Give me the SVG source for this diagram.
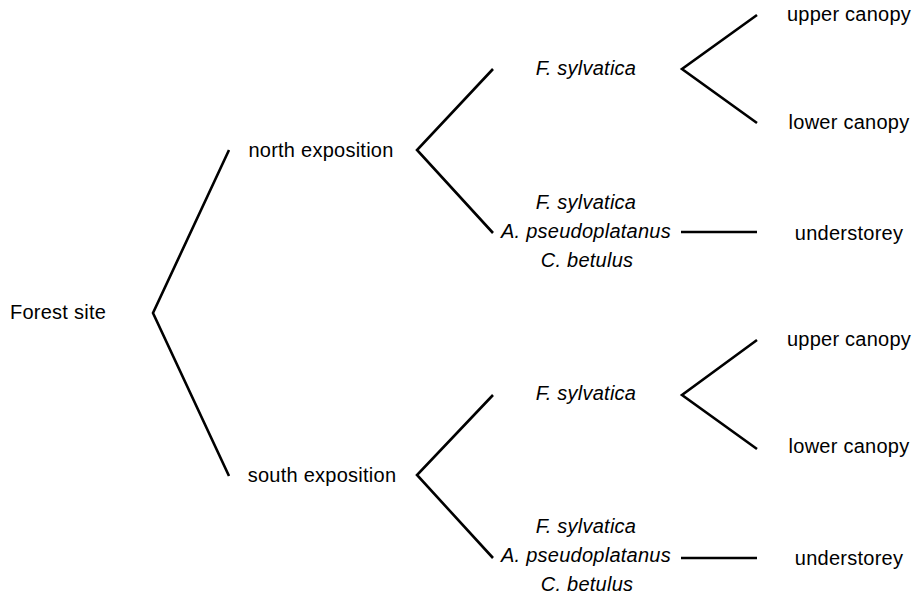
<svg xmlns="http://www.w3.org/2000/svg" width="918" height="597" viewBox="0 0 918 597">
<style>
text{font-family:"Liberation Sans",Arial,sans-serif;font-size:20px;fill:#000;letter-spacing:0.25px}
.i{font-style:italic}
.m{text-anchor:middle}
.c line, .c polyline{stroke:#000;stroke-width:2.6;fill:none;stroke-linecap:butt;stroke-linejoin:miter}
</style>
<rect width="918" height="597" fill="#fff"/>
<g id="forest"><text x="10" y="319">Forest site</text></g>
<g id="north"><text class="m" x="321" y="157">north exposition</text></g>
<g id="south"><text class="m" x="322" y="482">south exposition</text></g>
<g id="n-fsyl"><text class="i m" x="586" y="75">F. sylvatica</text></g>
<g id="n-mix"><text class="i m" x="586" y="209">F. sylvatica</text><text class="i m" x="586" y="238">A. pseudoplatanus</text><text class="i m" x="587" y="267">C. betulus</text></g>
<g id="n-upper"><text class="m" x="849" y="21">upper canopy</text></g>
<g id="n-lower"><text class="m" x="849" y="129">lower canopy</text></g>
<g id="n-under"><text class="m" x="849" y="240">understorey</text></g>
<g id="s-fsyl"><text class="i m" x="586" y="400">F. sylvatica</text></g>
<g id="s-mix"><text class="i m" x="586" y="533">F. sylvatica</text><text class="i m" x="586" y="562">A. pseudoplatanus</text><text class="i m" x="587" y="591">C. betulus</text></g>
<g id="s-upper"><text class="m" x="849" y="346">upper canopy</text></g>
<g id="s-lower"><text class="m" x="849" y="453">lower canopy</text></g>
<g id="s-under"><text class="m" x="849" y="565">understorey</text></g>
<g id="connectors" class="c">
<polyline points="229,150 153,313 229,476"/>
<polyline points="493,69 417,150 493,233"/>
<polyline points="493,395 417,475 493,558"/>
<polyline points="757,15 682,69 757,123"/>
<polyline points="757,340 682,395 757,449"/>
<line x1="681" y1="232" x2="757" y2="232"/>
<line x1="681" y1="558" x2="757" y2="558"/>
</g>
</svg>
